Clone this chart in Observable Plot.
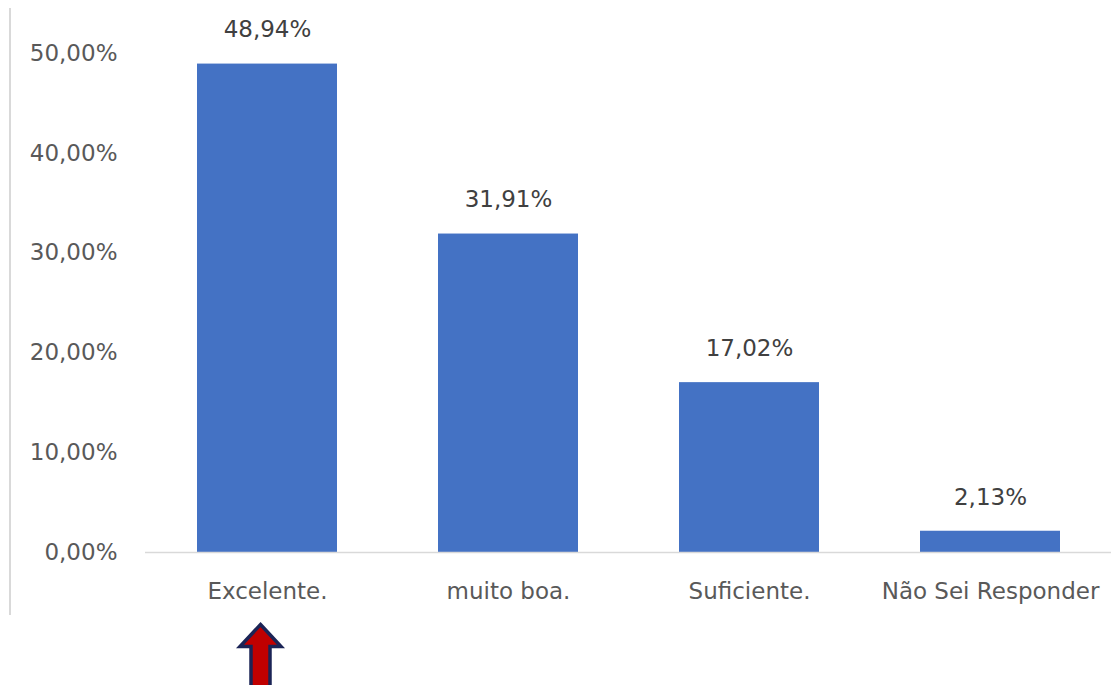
<!DOCTYPE html>
<html>
<head>
<meta charset="utf-8">
<script src="https://cdn.jsdelivr.net/npm/d3@7"></script>
<script src="https://cdn.jsdelivr.net/npm/@observablehq/plot@0.6"></script>
<style>
  html, body { margin: 0; padding: 0; background: #fff; }
  #wrap { position: relative; width: 1111px; height: 685px; overflow: hidden; }
  #edge { position: absolute; left: 9px; top: 8px; width: 2px; height: 607px; background: #d9d9d9; }
</style>
</head>
<body>
<div id="wrap"><div id="edge"></div></div>
<script>
const categories = ["Excelente.", "muito boa.", "Suficiente.", "Não Sei Responder"];
const values = [48.94, 31.91, 17.02, 2.13];
const yTicks = [0, 10, 20, 30, 40, 50];
const highlighted = ["Excelente."];

const data = categories.map((c, i) => ({category: c, value: values[i]}));
const fmt = v => v.toFixed(2).replace(".", ",") + "%";

const upArrow = {
  draw(context, l) {
    const hw = 20.5, sw = 9.5, hh = 22;
    context.moveTo(0, -l);
    context.lineTo(hw, -l + hh);
    context.lineTo(sw, -l + hh);
    context.lineTo(sw, 0);
    context.lineTo(-sw, 0);
    context.lineTo(-sw, -l + hh);
    context.lineTo(-hw, -l + hh);
    context.closePath();
  }
};

const chart = Plot.plot({
  width: 1111,
  height: 685,
  marginTop: 53,
  marginBottom: 133,
  marginLeft: 145,
  marginRight: 0,
  style: {fontFamily: "DejaVu Sans", fontSize: "23px", color: "#595959", background: "transparent"},
  x: {domain: categories, paddingInner: 0.42, paddingOuter: 0.21, label: null},
  y: {domain: [0, 50], label: null},
  marks: [
    Plot.axisY({ticks: yTicks, tickSize: 0, tickPadding: 28, tickFormat: fmt, label: null}),
    Plot.axisX({tickSize: 0, tickPadding: 30, label: null}),
    Plot.barY(data, {x: "category", y: "value", fill: "#4472c4"}),
    Plot.ruleY([0], {stroke: "#d9d9d9", strokeWidth: 1.5}),
    Plot.text(data, {x: "category", y: "value", text: d => fmt(d.value), dy: -34, fill: "#404040"}),
    Plot.vector(highlighted, {
      x: d => d, frameAnchor: "bottom", dy: 136, dx: -7,
      length: 64, anchor: "start", rotate: 0, shape: upArrow,
      fill: "#c00000", stroke: "#1b2456", strokeWidth: 3.5, strokeLinejoin: "miter"
    })
  ]
});
document.getElementById("wrap").appendChild(chart);
chart.style.position = "absolute";
chart.style.left = "0";
chart.style.top = "0";
</script>
</body>
</html>
